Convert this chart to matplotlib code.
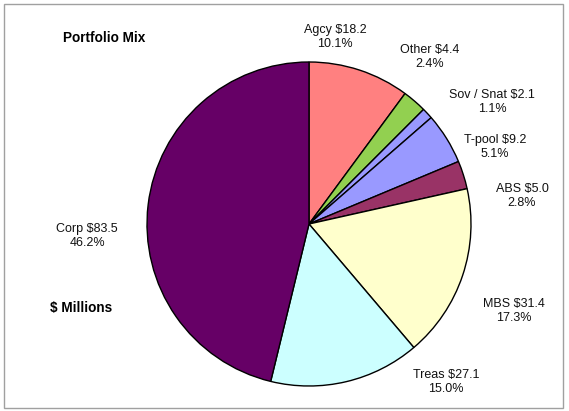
import matplotlib.pyplot as plt
from matplotlib.patches import Rectangle

plt.rcParams["font.family"] = ["Liberation Sans", "DejaVu Sans"]

W, H = 569, 411

categories = ["Agcy", "Other", "Sov / Snat", "T-pool", "ABS", "MBS", "Treas", "Corp"]
amounts = [18.2, 4.4, 2.1, 9.2, 5.0, 31.4, 27.1, 83.5]
percents = [10.1, 2.4, 1.1, 5.1, 2.8, 17.3, 15.0, 46.2]
colors = ["#FF8080", "#92D050", "#9999FF", "#9999FF", "#993366",
          "#FFFFCC", "#CCFFFF", "#660066"]

# label centres in pixels (x from left, y from top), Excel-style placement
label_pos = [(335, 37), (430, 57), (492, 102), (495, 147), (522, 196),
             (514, 311), (446, 382), (87, 236)]


def px(x, y):
    return x / W, 1 - y / H


def main():
    fig = plt.figure(figsize=(W / 100, H / 100), dpi=100)
    fig.patches.append(Rectangle((4 / W, 3 / H), 559 / W, 404 / H,
                                 transform=fig.transFigure, fill=False,
                                 edgecolor="#A0A0A0", lw=1))

    cx, cy, r = 309, 224, 162
    ax = fig.add_axes([(cx - r) / W, (H - cy - r) / H, 2 * r / W, 2 * r / H])
    ax.pie(percents, colors=colors, startangle=90, counterclock=False,
           wedgeprops=dict(edgecolor="black", linewidth=1))
    ax.set_xlim(-1, 1)
    ax.set_ylim(-1, 1)

    for cat, amt, pct, (x, y) in zip(categories, amounts, percents, label_pos):
        fig.text(*px(x, y), f"{cat} ${amt:.1f}\n{pct:.1f}%", ha="center",
                 va="center", fontsize=9, linespacing=1.2, color="#111111")

    fig.text(*px(104, 38), "Portfolio Mix", ha="center", va="center",
             fontsize=9.8, fontweight="bold")
    fig.text(*px(81, 308), "$ Millions", ha="center", va="center",
             fontsize=9.8, fontweight="bold")

    fig.savefig("out.png", dpi=100)


if __name__ == "__main__":
    main()
